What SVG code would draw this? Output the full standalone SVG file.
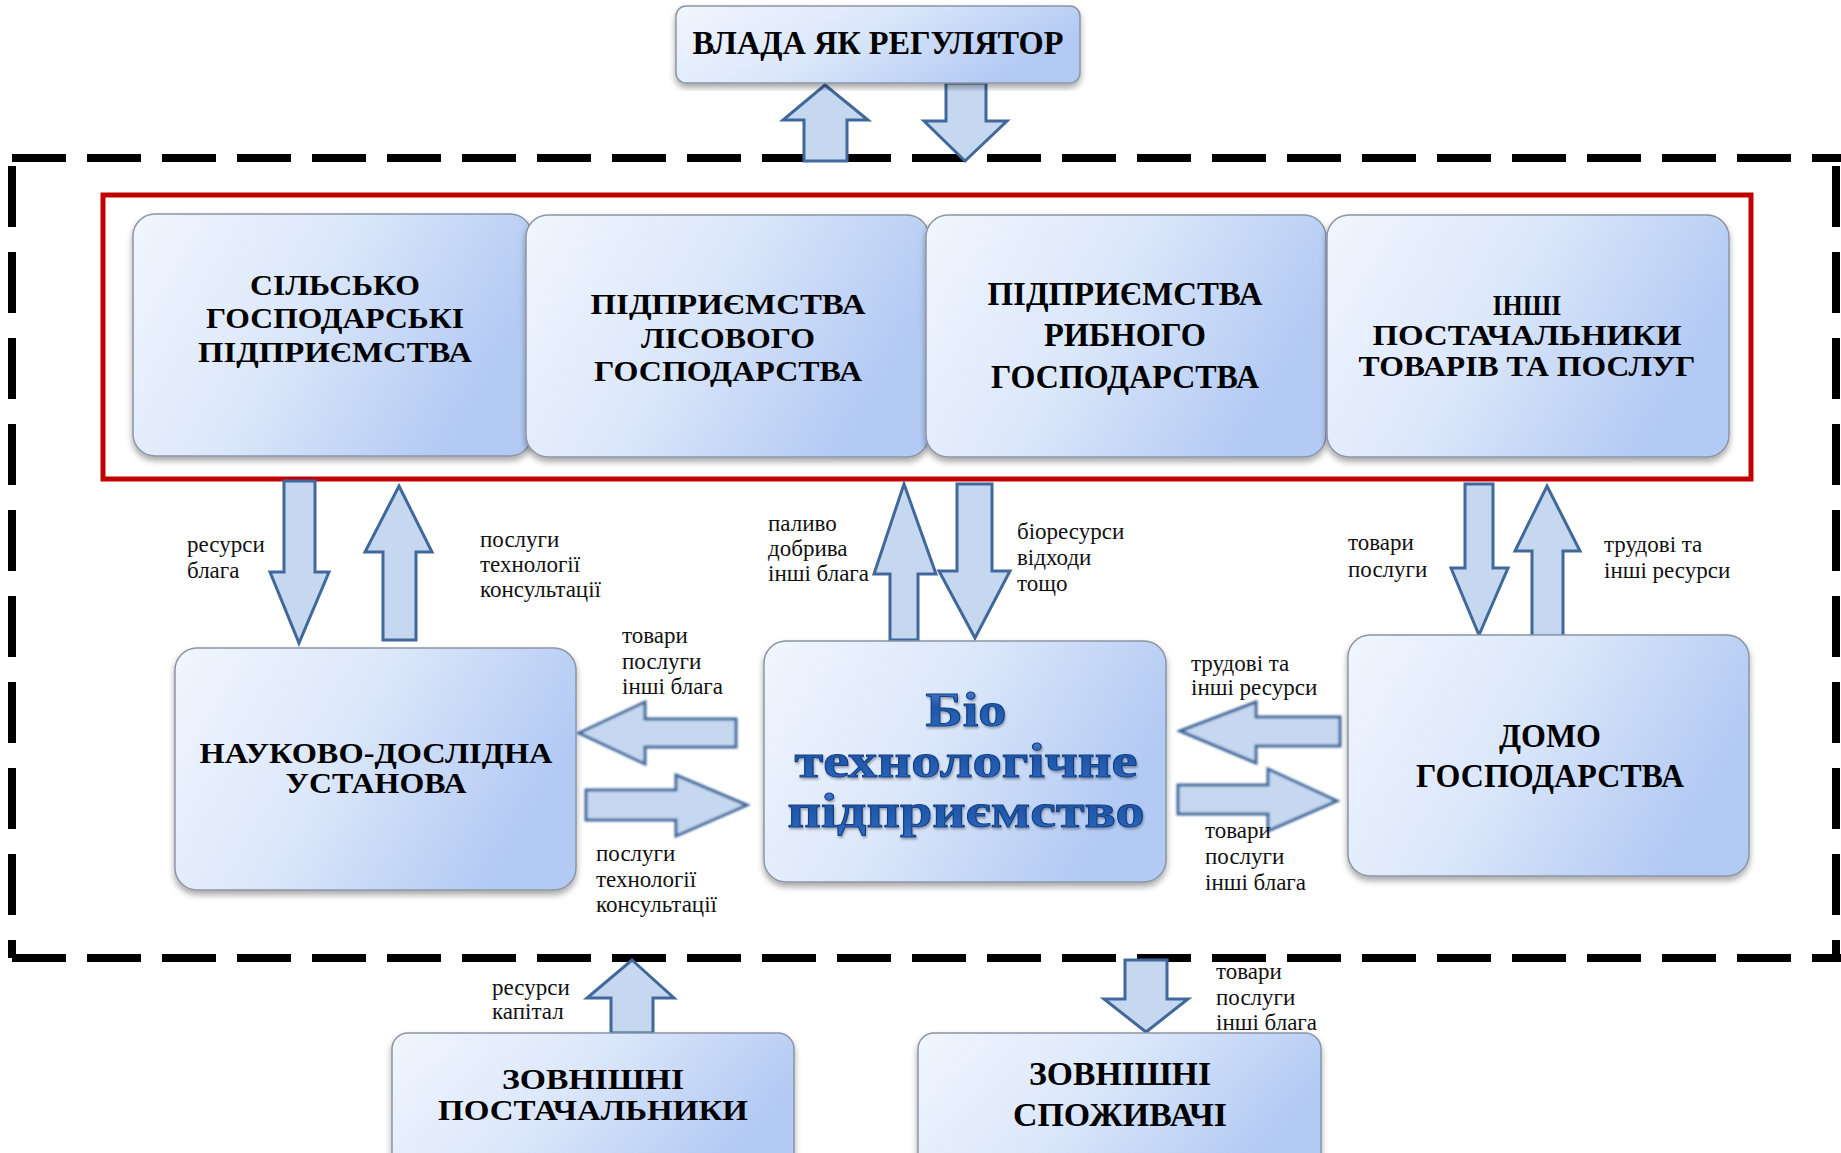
<svg xmlns="http://www.w3.org/2000/svg" width="1841" height="1153" viewBox="0 0 1841 1153">
<defs>
<linearGradient id="boxg" x1="0" y1="0" x2="1" y2="0.35">
<stop offset="0" stop-color="#f1f6fe"/>
<stop offset="0.5" stop-color="#dbe7fa"/>
<stop offset="1" stop-color="#b3caf4"/>
</linearGradient>
<linearGradient id="biog" x1="0" y1="0" x2="0" y2="1">
<stop offset="0" stop-color="#5b8fdc"/>
<stop offset="0.45" stop-color="#1f56a8"/>
<stop offset="1" stop-color="#2f6cc4"/>
</linearGradient>
<filter id="shadow" x="-5%" y="-5%" width="110%" height="115%">
<feDropShadow dx="0" dy="4" stdDeviation="3" flood-color="#000" flood-opacity="0.35"/>
</filter>
<filter id="tshadow" x="-5%" y="-10%" width="110%" height="130%">
<feDropShadow dx="1" dy="2" stdDeviation="1.2" flood-color="#000" flood-opacity="0.3"/>
</filter>
<filter id="soft" x="-5%" y="-10%" width="110%" height="120%">
<feGaussianBlur stdDeviation="0.8"/>
</filter>
</defs>
<style>
.box{fill:url(#boxg);stroke:#8b95a5;stroke-width:1.5;filter:url(#shadow)}
.nt{font-family:"Liberation Serif","Times New Roman",serif;font-weight:bold;font-size:33px;fill:#000;text-anchor:middle}
.ns{font-size:30px}
.nb{font-size:34px}
.lb{font-family:"Liberation Serif","Times New Roman",serif;font-size:23px;fill:#111}
.ar{fill:#c5d8ef;stroke:#41689b;stroke-width:3;stroke-linejoin:miter}
.hz{filter:url(#soft)}
.dash{stroke:#000;stroke-width:8;fill:none}
.bio{font-family:"Liberation Serif","Times New Roman",serif;font-weight:bold;font-size:49px;fill:url(#biog);stroke:#123d80;stroke-width:1;text-anchor:middle;filter:url(#tshadow)}
</style>

<g id="frame">
<line class="dash" x1="12" y1="158" x2="1841" y2="158" stroke-dasharray="54 21"/>
<line class="dash" x1="12" y1="958" x2="1841" y2="958" stroke-dasharray="54 21"/>
<line class="dash" x1="12" y1="166" x2="12" y2="958" stroke-dasharray="61 25"/>
<line class="dash" x1="1836" y1="166" x2="1836" y2="958" stroke-dasharray="61 25"/>
<rect x="103" y="195" width="1648" height="284" fill="none" stroke="#c00000" stroke-width="5"/>
</g>

<g id="connectors">
<polygon class="ar" points="825,85 868,120 847,120 847,161 804,161 804,120 783,120"/>
<polygon class="ar" points="946,83 986,83 986,121 1007,121 965,161 924,121 946,121"/>
<polygon class="ar" points="284,481 315,481 315,572 329,572 299,643 270,572 284,572"/>
<polygon class="ar" points="399,486 432,552 416,552 416,640 383,640 383,552 365,552"/>
<polygon class="ar" points="904,484 936,574 918,574 918,640 890,640 890,574 874,574"/>
<polygon class="ar" points="957,484 992,484 992,571 1010,571 975,638 939,571 957,571"/>
<polygon class="ar" points="1465,484 1493,484 1493,568 1508,568 1479,635 1451,568 1465,568"/>
<polygon class="ar" points="1547,486 1580,551 1563,551 1563,639 1532,639 1532,551 1515,551"/>
<polygon class="ar hz" points="579,733 645,702 645,719 736,719 736,747 645,747 645,764"/>
<polygon class="ar hz" points="586,790 676,790 676,775 747,805 676,836 676,820 586,820"/>
<polygon class="ar hz" points="1180,731 1256,702 1256,717 1340,717 1340,746 1256,746 1256,763"/>
<polygon class="ar hz" points="1178,785 1268,785 1268,769 1337,801 1268,831 1268,814 1178,814"/>
<polygon class="ar" points="632,960 674,998 653,998 653,1033 611,1033 611,998 587,998"/>
<polygon class="ar" points="1125,960 1167,960 1167,999 1188,999 1146,1032 1104,999 1125,999"/>

<text class="lb" x="187" y="552">ресурси</text>
<text class="lb" x="187" y="578">блага</text>
<text class="lb" x="480" y="547">послуги</text>
<text class="lb" x="480" y="572">технології</text>
<text class="lb" x="480" y="597">консультації</text>
<text class="lb" x="768" y="531">паливо</text>
<text class="lb" x="768" y="556">добрива</text>
<text class="lb" x="768" y="581">інші блага</text>
<text class="lb" x="1017" y="539">біоресурси</text>
<text class="lb" x="1017" y="565">відходи</text>
<text class="lb" x="1017" y="591">тощо</text>
<text class="lb" x="1348" y="550">товари</text>
<text class="lb" x="1348" y="577">послуги</text>
<text class="lb" x="1604" y="552">трудові та</text>
<text class="lb" x="1604" y="578">інші ресурси</text>
<text class="lb" x="622" y="643">товари</text>
<text class="lb" x="622" y="669">послуги</text>
<text class="lb" x="622" y="694">інші блага</text>
<text class="lb" x="596" y="861">послуги</text>
<text class="lb" x="596" y="887">технології</text>
<text class="lb" x="596" y="912">консультації</text>
<text class="lb" x="1191" y="671">трудові та</text>
<text class="lb" x="1191" y="695">інші ресурси</text>
<text class="lb" x="1205" y="838">товари</text>
<text class="lb" x="1205" y="864">послуги</text>
<text class="lb" x="1205" y="890">інші блага</text>
<text class="lb" x="492" y="995">ресурси</text>
<text class="lb" x="492" y="1019">капітал</text>
<text class="lb" x="1216" y="979">товари</text>
<text class="lb" x="1216" y="1005">послуги</text>
<text class="lb" x="1216" y="1030">інші блага</text>
</g>

<g id="n-vlada">
<rect class="box" x="676" y="6" width="404" height="77" rx="10"/>
<text class="nt" x="878" y="54" textLength="371" lengthAdjust="spacingAndGlyphs">ВЛАДА ЯК РЕГУЛЯТОР</text>
</g>

<g id="n-silsko">
<rect class="box" x="133" y="214" width="399" height="242" rx="22"/>
<text class="nt ns" x="335" y="295" textLength="170" lengthAdjust="spacingAndGlyphs">СІЛЬСЬКО</text>
<text class="nt ns" x="335" y="328" textLength="258" lengthAdjust="spacingAndGlyphs">ГОСПОДАРСЬКІ</text>
<text class="nt ns" x="335" y="362" textLength="274" lengthAdjust="spacingAndGlyphs">ПІДПРИЄМСТВА</text>
</g>

<g id="n-lis">
<rect class="box" x="526" y="215" width="403" height="242" rx="22"/>
<text class="nt ns" x="728" y="314" textLength="275" lengthAdjust="spacingAndGlyphs">ПІДПРИЄМСТВА</text>
<text class="nt ns" x="728" y="348" textLength="174" lengthAdjust="spacingAndGlyphs">ЛІСОВОГО</text>
<text class="nt ns" x="728" y="381" textLength="268" lengthAdjust="spacingAndGlyphs">ГОСПОДАРСТВА</text>
</g>

<g id="n-ryb">
<rect class="box" x="926" y="215" width="400" height="242" rx="22"/>
<text class="nt" x="1125" y="305" textLength="275" lengthAdjust="spacingAndGlyphs">ПІДПРИЄМСТВА</text>
<text class="nt" x="1125" y="346" textLength="162" lengthAdjust="spacingAndGlyphs">РИБНОГО</text>
<text class="nt" x="1125" y="388" textLength="268" lengthAdjust="spacingAndGlyphs">ГОСПОДАРСТВА</text>
</g>

<g id="n-inshi">
<rect class="box" x="1327" y="215" width="402" height="242" rx="22"/>
<text class="nt ns" x="1527" y="315" textLength="69" lengthAdjust="spacingAndGlyphs">ІНШІ</text>
<text class="nt ns" x="1527" y="345" textLength="309" lengthAdjust="spacingAndGlyphs">ПОСТАЧАЛЬНИКИ</text>
<text class="nt ns" x="1527" y="376" textLength="337" lengthAdjust="spacingAndGlyphs">ТОВАРІВ ТА ПОСЛУГ</text>
</g>

<g id="n-nauk">
<rect class="box" x="175" y="648" width="401" height="242" rx="22"/>
<text class="nt ns" x="376" y="763" textLength="353" lengthAdjust="spacingAndGlyphs">НАУКОВО-ДОСЛІДНА</text>
<text class="nt ns" x="376" y="793" textLength="181" lengthAdjust="spacingAndGlyphs">УСТАНОВА</text>
</g>

<g id="n-bio">
<rect class="box" x="764" y="641" width="402" height="241" rx="22"/>
<text class="bio" x="966" y="726" textLength="81" lengthAdjust="spacingAndGlyphs">Біо</text>
<text class="bio" x="966" y="777" textLength="343" lengthAdjust="spacingAndGlyphs">технологічне</text>
<text class="bio" x="966" y="827" textLength="357" lengthAdjust="spacingAndGlyphs">підприємство</text>
</g>

<g id="n-domo">
<rect class="box" x="1348" y="635" width="401" height="241" rx="22"/>
<text class="nt nb" x="1550" y="747" textLength="102" lengthAdjust="spacingAndGlyphs">ДОМО</text>
<text class="nt nb" x="1550" y="787" textLength="268" lengthAdjust="spacingAndGlyphs">ГОСПОДАРСТВА</text>
</g>

<g id="n-zpost">
<rect class="box" x="392" y="1033" width="402" height="150" rx="16"/>
<text class="nt ns" x="593" y="1089" textLength="182" lengthAdjust="spacingAndGlyphs">ЗОВНІШНІ</text>
<text class="nt ns" x="593" y="1120" textLength="310" lengthAdjust="spacingAndGlyphs">ПОСТАЧАЛЬНИКИ</text>
</g>

<g id="n-zspoz">
<rect class="box" x="918" y="1033" width="403" height="150" rx="16"/>
<text class="nt nb" x="1120" y="1085" textLength="182" lengthAdjust="spacingAndGlyphs">ЗОВНІШНІ</text>
<text class="nt nb" x="1120" y="1126" textLength="214" lengthAdjust="spacingAndGlyphs">СПОЖИВАЧІ</text>
</g>
</svg>
